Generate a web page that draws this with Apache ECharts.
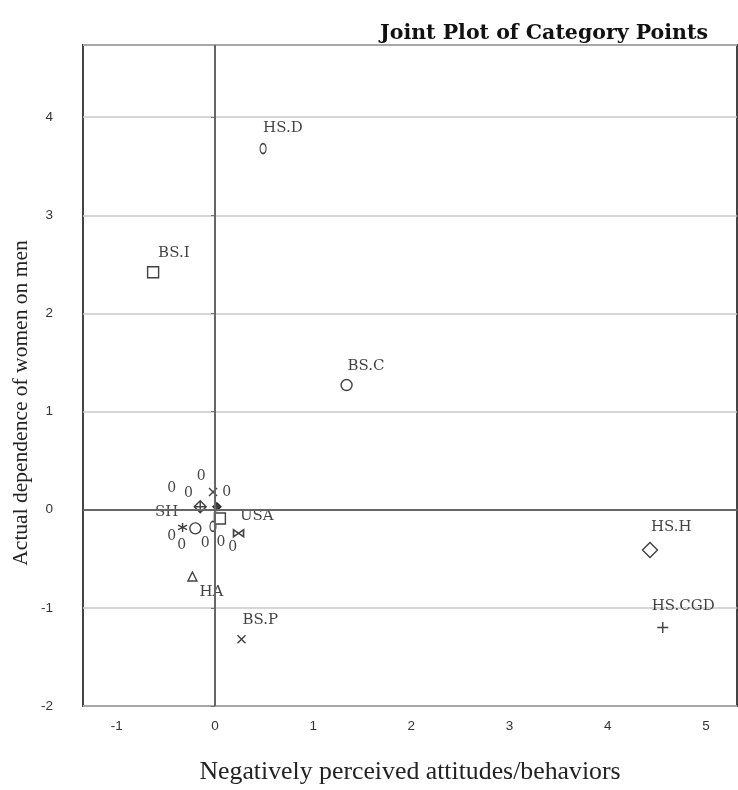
<!DOCTYPE html>
<html>
<head>
<meta charset="utf-8">
<script src="https://cdn.jsdelivr.net/npm/echarts@6/dist/echarts.min.js"></script>
<style>
  html, body { margin: 0; padding: 0; background: #fff; }
  #chart { width: 738px; height: 790px; }
</style>
</head>
<body>
<div id="chart"></div>
<script>
// category points (labelled and unlabelled markers)
const pointNames = ['HS.D', 'BS.I', 'BS.C', 'HS.H', 'HS.CGD', 'BS.P', 'HA', 'SH', 'USA', '', '', '', '', '', ''];
const pointX = [0.49, -0.63, 1.34, 4.43, 4.56, 0.27, -0.23, -0.15, 0.05, 0.02, -0.02, -0.33, -0.20, -0.02, 0.24];
const pointY = [3.68, 2.42, 1.27, -0.41, -1.20, -1.32, -0.68, 0.03, -0.09, 0.03, 0.18, -0.18, -0.19, -0.17, -0.24];
const pointShape = ['ellipse', 'square', 'circle', 'diamond', 'plus', 'cross', 'triangle', 'diamondPlus', 'square',
  'filled', 'cross', 'asterisk', 'circle', 'ellipse', 'bowtie'];

// points only marked with the label "0"
const zeroX = [-0.14, -0.44, -0.27, 0.12, -0.44, -0.34, -0.10, 0.06, 0.18];
const zeroY = [0.34, 0.22, 0.17, 0.18, -0.27, -0.36, -0.34, -0.33, -0.38];

const xTicks = [-1, 0, 1, 2, 3, 4, 5];
const yTicks = [-2, -1, 0, 1, 2, 3, 4];

const ink = '#111';
const serif = 'Liberation Serif';
const wideSerif = 'DejaVu Serif';

const shapes = {
  ellipse: { symbol: 'path://M5,0A5,9 0 1,1 5,18A5,9 0 1,1 5,0Z', size: [6, 10] },
  square: { symbol: 'rect', size: 11 },
  circle: { symbol: 'circle', size: 11 },
  diamond: { symbol: 'diamond', size: 15 },
  plus: { symbol: 'path://M5,0L5,10M0,5L10,5', size: 11 },
  cross: { symbol: 'path://M0,0L10,10M10,0L0,10', size: 8 },
  triangle: { symbol: 'triangle', size: 9 },
  diamondPlus: { symbol: 'path://M5,0L10,5L5,10L0,5ZM5,0L5,10M0,5L10,5', size: 12 },
  filled: { symbol: 'diamond', size: 8, fill: ink },
  asterisk: { symbol: 'path://M5,0L5,10M0,2.5L10,7.5M0,7.5L10,2.5', size: 9 },
  bowtie: { symbol: 'path://M0,0L10,10L10,0L0,10Z', size: [10, 7] }
};

// label placement relative to the marker centre
const labelOffset = {
  'HS.D': [0, -20], 'BS.I': [5, -19], 'BS.C': [1, -19], 'HS.H': [1, -23],
  'HS.CGD': [-11, -21], 'BS.P': [1, -19], 'HA': [7, 16], 'SH': [-22, 5], 'USA': [20, -2]
};

const pointData = pointNames.map((name, i) => {
  const s = shapes[pointShape[i]];
  return {
    name: name,
    value: [pointX[i], pointY[i]],
    symbol: s.symbol,
    symbolSize: s.size,
    itemStyle: { color: s.fill || '#fff', borderColor: ink, borderWidth: 1.4 },
    label: {
      show: name !== '',
      position: 'inside',
      align: name === 'SH' ? 'right' : 'left',
      verticalAlign: 'middle',
      offset: labelOffset[name] || [0, 0],
      formatter: '{b}',
      color: ink
    }
  };
});

const zeroData = zeroX.map((x, i) => ({ name: '0', value: [x, zeroY[i]] }));

const chart = echarts.init(document.getElementById('chart'), null, { renderer: 'canvas' });

chart.setOption({
  animation: false,
  backgroundColor: '#fff',
  title: {
    text: 'Joint Plot of Category Points',
    right: 25,
    top: 18,
    textStyle: { fontFamily: wideSerif, fontWeight: 'bold', fontSize: 20.5, color: '#111' }
  },
  graphic: [{
    type: 'text',
    x: 21,
    y: 403,
    rotation: Math.PI / 2,
    style: {
      text: 'Actual dependence of women on men',
      fontFamily: serif, fontSize: 21.5, fill: '#222',
      align: 'center', verticalAlign: 'middle'
    }
  }],
  grid: {
    left: 83, right: 1, top: 45, bottom: 84,
    show: true, borderColor: '#444', borderWidth: 2, backgroundColor: '#fff'
  },
  xAxis: {
    type: 'value',
    min: -1.344,
    max: 5.316,
    splitNumber: 6,
    name: 'Negatively perceived attitudes/behaviors',
    nameLocation: 'middle',
    nameGap: 53,
    nameTextStyle: { fontFamily: serif, fontSize: 25.8, color: '#222' },
    axisLine: { show: false },
    axisTick: { show: false },
    splitLine: { show: false },
    axisLabel: {
      showMinLabel: false, showMaxLabel: false,
      margin: 13,
      fontFamily: 'Liberation Sans', fontSize: 13.5, color: '#333',
      formatter: v => xTicks.includes(Math.round(v * 1000) / 1000) ? String(v) : ''
    }
  },
  yAxis: {
    type: 'value',
    min: -2,
    max: 4.735,
    splitNumber: 6,
    axisLine: { show: false },
    axisTick: { show: true, length: 4, inside: false, lineStyle: { color: '#777' } },
    splitLine: { show: true, lineStyle: { color: '#c8c8c8', width: 1.5 } },
    axisLabel: {
      showMinLabel: true, showMaxLabel: false,
      margin: 30,
      fontFamily: 'Liberation Sans', fontSize: 13.5, color: '#333',
      formatter: v => yTicks.includes(Math.round(v * 1000) / 1000) ? String(v) : ''
    }
  },
  series: [
    {
      type: 'scatter',
      data: zeroData,
      symbolSize: 0,
      silent: true,
      label: {
        show: true, position: 'inside', formatter: '{b}',
        fontFamily: wideSerif, fontSize: 14, color: ink
      },
      markLine: {
        silent: true,
        symbol: 'none',
        label: { show: false },
        lineStyle: { color: '#666', width: 2, type: 'solid' },
        data: [{ xAxis: 0 }, { yAxis: 0 }]
      }
    },
    {
      type: 'scatter',
      data: pointData,
      z: 3,
      label: { fontFamily: wideSerif, fontSize: 15, color: ink }
    }
  ]
});
</script>
</body>
</html>
